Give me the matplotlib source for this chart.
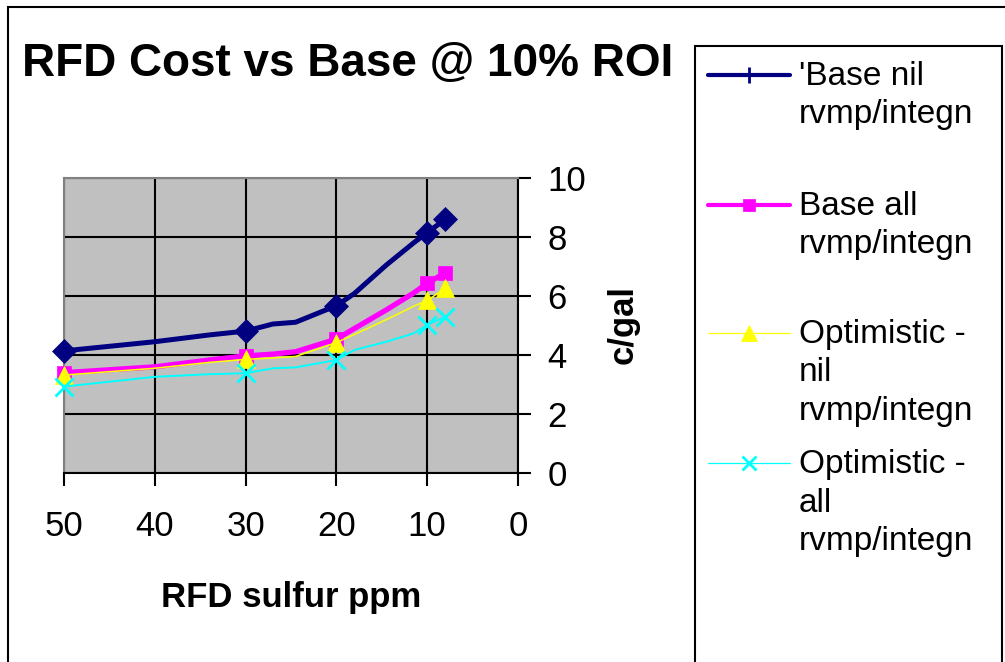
"""
RFD cost vs base @ 10% ROI - Excel style line chart with reversed sulfur axis.
"""

import matplotlib
matplotlib.use("Agg")
import matplotlib.pyplot as plt
from matplotlib.lines import Line2D
from matplotlib.patches import Rectangle

plt.rcParams["font.family"] = ["Liberation Sans", "DejaVu Sans"]

W, H = 1005, 662

# sulfur ppm (smoothed path points; markers only at the real cases)
SULFUR = [50, 40, 34, 30, 27, 24.5, 20, 18, 14.5, 11.5, 10, 8]
MARK_IDX = [0, 3, 6, 10, 11]

BASE_NIL = [4.14, 4.45, 4.68, 4.81, 5.05, 5.11, 5.67, 6.09, 7.05, 7.80, 8.15, 8.60]
BASE_ALL = [3.40, 3.60, 3.83, 3.97, 4.03, 4.11, 4.54, 4.90, 5.53, 6.10, 6.43, 6.79]
OPT_NIL = [3.32, 3.55, 3.75, 3.85, 3.90, 3.95, 4.42, 4.70, 5.20, 5.65, 5.85, 6.26]
OPT_ALL = [2.93, 3.26, 3.35, 3.38, 3.55, 3.58, 3.83, 4.17, 4.45, 4.73, 5.02, 5.30]

LABELS = [
    "'Base nil\nrvmp/integn",
    "Base all\nrvmp/integn",
    "Optimistic -\nnil\nrvmp/integn",
    "Optimistic -\nall\nrvmp/integn",
]

X_TICKS = [50, 40, 30, 20, 10, 0]
Y_TICKS = [0, 2, 4, 6, 8, 10]

# (color, line width, marker, marker size, legend marker, legend lw)
STYLES = [
    ("#000080", 3.6, "D", 12, "|", 3.0),
    ("#FF00FF", 3.8, "s", 10, "s", 3.0),
    ("#FFFF00", 1.1, "^", 13, "^", 0.9),
    ("#00FFFF", 1.4, "x", 13, "x", 0.9),
]
SERIES = [BASE_NIL, BASE_ALL, OPT_NIL, OPT_ALL]


def fx(px):
    return px / W


def fy(py):
    return 1 - py / H


fig = plt.figure(figsize=(W / 100, H / 100), dpi=100)
fig.patch.set_facecolor("white")

# outer chart frame (clipped at right and bottom like the source)
fig.patches.append(Rectangle((fx(8), fy(700)), fx(1100), fy(7) - fy(700),
                             transform=fig.transFigure, fill=False,
                             lw=1.5, ec="black"))

ax = fig.add_axes([fx(64), fy(473), fx(518) - fx(64), fy(178) - fy(473)])
ax.set_facecolor("#C0C0C0")

for vals, (color, lw, mk, ms, _, _) in zip(SERIES, STYLES):
    ax.plot(SULFUR, vals, color=color, lw=lw, marker=mk, ms=ms,
            markevery=MARK_IDX, mew=2 if mk == "x" else 0.5,
            mec=color, mfc=color, clip_on=False, zorder=3,
            solid_joinstyle="round")

ax.set_xlim(50, 0)
ax.set_ylim(0, 10)
ax.set_xticks(X_TICKS)
ax.set_yticks(Y_TICKS)
ax.grid(True, color="black", lw=1.5)
ax.yaxis.tick_right()
ax.yaxis.set_label_position("right")

ax.tick_params(axis="x", direction="out", length=9, width=1.5,
               labelsize=25, pad=18)
ax.tick_params(axis="y", direction="out", length=9, width=1.5,
               labelsize=25, pad=12)

for side in ("left", "top"):
    ax.spines[side].set_color("#808080")
    ax.spines[side].set_linewidth(1.5)
for side in ("right", "bottom"):
    ax.spines[side].set_color("black")
    ax.spines[side].set_linewidth(1.5)

ax.set_xlabel("RFD sulfur ppm", fontsize=25, fontweight="bold", va="baseline")
ax.xaxis.set_label_coords(0.5, (473 - 607) / 295)
ax.set_ylabel("c/gal", fontsize=25, fontweight="bold", rotation=90,
              va="center", ha="center")
ax.yaxis.set_label_coords((623 - 64) / 454, (473 - 324) / 295)

fig.text(fx(22), fy(76), "RFD Cost vs Base @ 10% ROI", fontsize=33,
         fontweight="bold", ha="left", va="baseline")

# legend box drawn by hand: Excel keeps fixed entry spacing with wrapped text
fig.patches.append(Rectangle((fx(695), fy(700)), fx(1002) - fx(695),
                             fy(46) - fy(700), transform=fig.transFigure,
                             fill=True, fc="white", lw=1.5, ec="black"))

entry_y = [75, 205, 333, 463]
for y0, label, (color, lw, mk, ms, lmk, llw) in zip(entry_y, LABELS, STYLES):
    fig.add_artist(Line2D([fx(708), fx(790)], [fy(y0), fy(y0)],
                          transform=fig.transFigure, color=color, lw=llw,
                          solid_capstyle="round"))
    lms = {"|": 12, "s": 8, "^": 12, "x": 10}[lmk]
    fig.add_artist(Line2D([fx(749)], [fy(y0)], transform=fig.transFigure,
                          color=color, marker=lmk, ms=lms, mew=2 if lmk in "|x" else 0.5,
                          mfc=color, mec=color, lw=0))
    for i, line in enumerate(label.split("\n")):
        fig.text(fx(799), fy(y0 + 10 + i * 38.5), line, fontsize=24,
                 ha="left", va="baseline")

fig.savefig("out.png", dpi=100)
